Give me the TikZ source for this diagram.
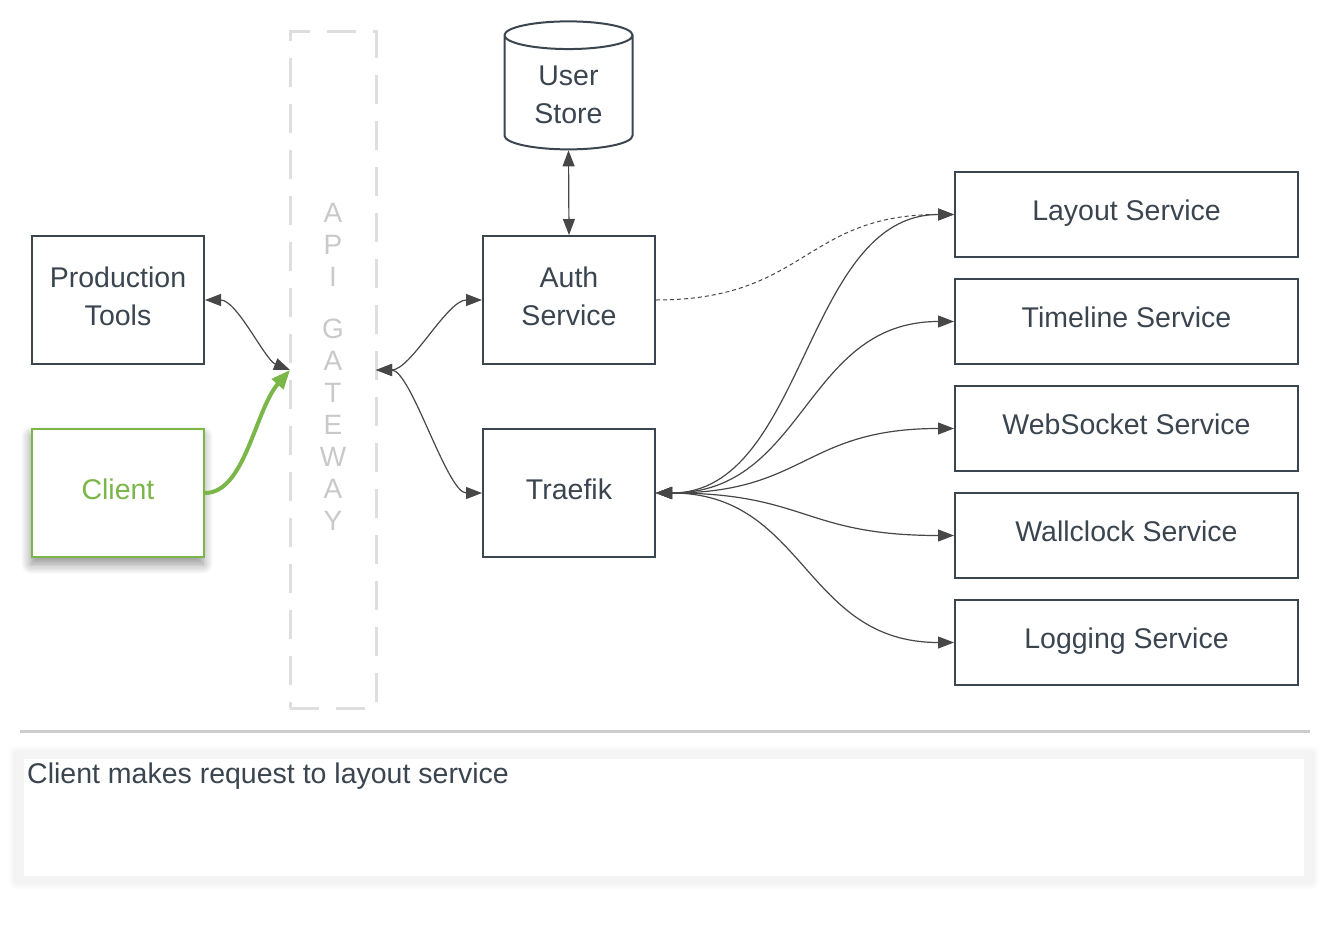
\documentclass[tikz,border=0pt]{standalone}
\usepackage{fontspec}
\setmainfont{Liberation Sans}
\usepackage{xcolor}
\usetikzlibrary{shapes,arrows.meta,positioning,shadows,shadows.blur}

\definecolor{ink}{HTML}{3B4550}
\definecolor{wire}{HTML}{474747}
\definecolor{leaf}{HTML}{7AB648}
\definecolor{fog}{HTML}{DEDEDE}
\definecolor{mist}{HTML}{C9C9C9}
\definecolor{rule}{HTML}{CCCCCC}
\definecolor{haze}{HTML}{F4F4F4}

\begin{document}
\begin{tikzpicture}[
        x=1pt, y=-1pt,
        font=\fontsize{28.5}{38}\selectfont,
        box/.style={rectangle, draw=ink, line width=2pt, text=ink, minimum width=172pt, minimum height=128pt, align=center, text depth=8pt},
        svc/.style={rectangle, draw=ink, line width=2pt, text=ink, minimum width=343pt, minimum height=85pt, text depth=8pt},
        gate/.style={rectangle, draw=fog, line width=3pt, dash pattern=on 29pt off 17pt, outer sep=0pt, minimum width=86pt, minimum height=676pt, text=mist, align=center, text depth=6pt, font=\fontsize{28}{32}\selectfont},
        notebox/.style={rectangle, draw=haze, line width=8pt, fill=white, minimum width=1288pt, minimum height=125pt, blur shadow={shadow xshift=0pt, shadow yshift=0pt, shadow scale=1.004, shadow blur radius=10pt, shadow blur steps=10, shadow opacity=14}},
        arrow/.style={->, >={Triangle[length=16pt, width=12pt]}, color=wire, line width=1.2pt},
        biarrow/.style={<->, >={Triangle[length=16pt, width=12pt]}, color=wire, line width=1.2pt}
    ]
        \useasboundingbox (0,0) rectangle (1327,934);

        % Gateway
        \node[gate] (gateway) at (333,370) {A\\P\\I\\[20pt]G\\A\\T\\E\\W\\A\\Y};

        % Clients
        \node[box] (tools) at (118,300) {Production\\Tools};
        \node[box, draw=leaf, text=leaf, fill=white, blur shadow={shadow xshift=-1pt, shadow yshift=-7pt, shadow blur radius=10pt, shadow blur steps=10, shadow opacity=45}, below=63pt of tools] (client) {Client};

        % Auth and routing
        \node[cylinder, shape border rotate=90, aspect=0.37, draw=ink, line width=2pt, text=ink, align=center, minimum width=128pt, minimum height=128pt] (store) at (568.5,95) {User\\Store};
        \node[box] (auth) at (569,300) {Auth\\Service};
        \node[box, below=63pt of auth] (traefik) {Traefik};

        % Services
        \node[svc] (layout) at (1126.5,214.5) {Layout Service};
        \node[svc, below=20pt of layout] (timeline) {Timeline Service};
        \node[svc, below=20pt of timeline] (websocket) {WebSocket Service};
        \node[svc, below=20pt of websocket] (wallclock) {Wallclock Service};
        \node[svc, below=20pt of wallclock] (logging) {Logging Service};

        % Notes
        \draw[line width=3pt, color=rule] (20,731) -- (1310,731);
        \node[notebox] (notes) at (664,817.5) {};
        \node[anchor=base west, text=ink, inner sep=0pt] (caption) at (27,783) {Client makes request to layout service};

        % Arrows
        \draw[biarrow] (tools.east) .. controls +(32,0) and +(-25,-10) .. (gateway.west);
        \draw[arrow, color=leaf, line width=4pt, >={Triangle[length=19pt, width=15pt]}] (client.east) .. controls +(40,0) and +(-35,40) .. (gateway.west);
        \draw[biarrow] (gateway.east) .. controls +(35,0) and +(-35,0) .. (auth.west);
        \draw[biarrow] (gateway.east) .. controls +(35,0) and +(-35,0) .. (traefik.west);
        \draw[biarrow] (store.south) -- (auth.north);
        \draw[arrow, dash pattern=on 4pt off 3pt, line width=1pt] (auth.east) .. controls +(150,0) and +(-150,0) .. (layout.west);

        \draw[biarrow] (traefik.east) .. controls +(150,0) and +(-150,0) .. (layout.west);
        \draw[biarrow] (traefik.east) .. controls +(150,0) and +(-150,0) .. (timeline.west);
        \draw[biarrow] (traefik.east) .. controls +(150,0) and +(-150,0) .. (websocket.west);
        \draw[biarrow] (traefik.east) .. controls +(150,0) and +(-150,0) .. (wallclock.west);
        \draw[biarrow] (traefik.east) .. controls +(150,0) and +(-150,0) .. (logging.west);

    \end{tikzpicture}
\end{document}
